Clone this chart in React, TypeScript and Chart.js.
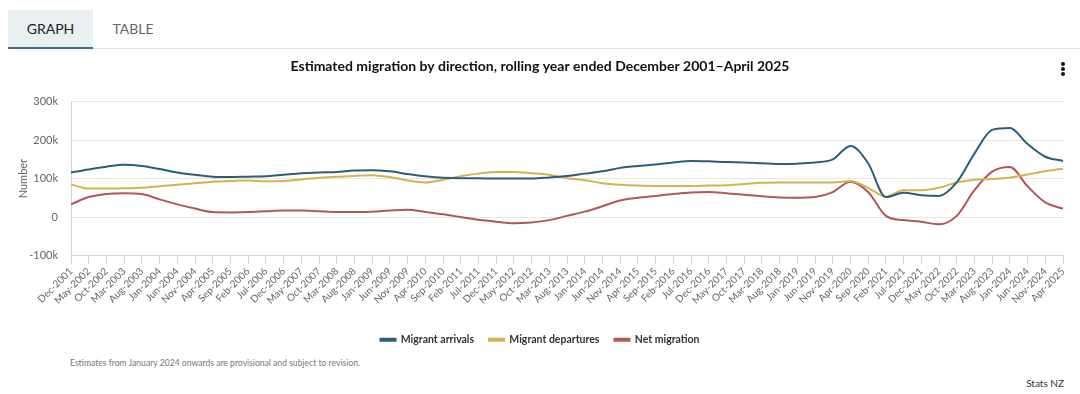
import React, { useEffect, useRef } from "react";
import { Chart, registerables } from "chart.js";

Chart.register(...registerables);

const FONT = "Lato, 'Open Sans', sans-serif";

const months = [
  "Dec-2001", "May-2002", "Oct-2002", "Mar-2003", "Aug-2003", "Jan-2004", "Jun-2004", "Nov-2004",
  "Apr-2005", "Sep-2005", "Feb-2006", "Jul-2006", "Dec-2006", "May-2007", "Oct-2007", "Mar-2008",
  "Aug-2008", "Jan-2009", "Jun-2009", "Nov-2009", "Apr-2010", "Sep-2010", "Feb-2011", "Jul-2011",
  "Dec-2011", "May-2012", "Oct-2012", "Mar-2013", "Aug-2013", "Jan-2014", "Jun-2014", "Nov-2014",
  "Apr-2015", "Sep-2015", "Feb-2016", "Jul-2016", "Dec-2016", "May-2017", "Oct-2017", "Mar-2018",
  "Aug-2018", "Jan-2019", "Jun-2019", "Nov-2019", "Apr-2020", "Sep-2020", "Feb-2021", "Jul-2021",
  "Dec-2021", "May-2022", "Oct-2022", "Mar-2023", "Aug-2023", "Jan-2024", "Jun-2024", "Nov-2024",
  "Apr-2025",
];

// values in thousands
const arrivals = [
  116, 124, 131, 136, 133, 125, 116, 110, 105, 104, 105, 106, 110, 114, 116, 117,
  121, 122, 119, 112, 106, 102, 101, 101, 100, 100, 100, 103, 107, 113, 119, 128,
  133, 137, 142, 146, 145, 143, 142, 140, 138, 139, 142, 150, 185, 140, 52, 63,
  57, 55, 90, 165, 227, 232, 190, 157, 146,
];

const departures = [
  85, 74, 74, 75, 76, 80, 84, 88, 92, 94, 95, 93, 94, 98, 102, 105,
  107, 109, 104, 95, 90, 97, 106, 113, 117, 117, 114, 110, 101, 96, 88, 84,
  82, 81, 81, 81, 82, 83, 86, 89, 90, 90, 90, 90, 94, 76, 53, 70,
  70, 76, 90, 97, 99, 103, 111, 119, 126,
];

const netMigration = [
  33, 52, 60, 62, 60, 46, 33, 22, 13, 12, 13, 15, 17, 17, 15, 13,
  13, 14, 17, 19, 13, 7, 0, -7, -12, -16, -14, -8, 3, 14, 28, 43,
  50, 55, 60, 64, 65, 62, 58, 54, 51, 50, 52, 65, 92, 65, 3, -8,
  -12, -19, 3, 70, 118, 130, 80, 38, 22,
];

const seriesNames = ["Migrant arrivals", "Migrant departures", "Net migration"];
const seriesColors = ["#2b5e7b", "#d6b24f", "#b3565a"];
const yTicks = [-100, 0, 100, 200, 300];

function MigrationChart() {
  const ref = useRef<HTMLCanvasElement | null>(null);
  useEffect(() => {
    if (!ref.current) return;
    const values = [arrivals, departures, netMigration];
    const chart = new Chart(ref.current, {
      type: "line",
      data: {
        labels: months,
        datasets: values.map((d, i) => ({
          label: seriesNames[i],
          data: d,
          borderColor: seriesColors[i],
          backgroundColor: seriesColors[i],
          borderWidth: 2,
          pointRadius: 0,
          cubicInterpolationMode: "monotone" as const,
        })),
      },
      options: {
        animation: false,
        responsive: false,
        maintainAspectRatio: false,
        layout: { padding: { left: 17, right: 17, top: 0, bottom: 0 } },
        plugins: {
          title: {
            display: true,
            text: "Estimated migration by direction, rolling year ended December 2001\u2013April 2025",
            color: "#111",
            font: { family: FONT, size: 14, weight: "bold" },
            padding: { top: 6, bottom: 27 },
          },
          legend: {
            position: "bottom",
            labels: {
              boxWidth: 15,
              boxHeight: 2,
              color: "#333",
              font: { family: FONT, size: 10.5, weight: "bold" },
              padding: 15,
            },
          },
          tooltip: { enabled: false },
        },
        scales: {
          x: {
            afterFit: (scale: any) => {
              scale.height += 11;
            },
            grid: {
              drawOnChartArea: false,
              drawTicks: true,
              tickLength: 8,
              color: "#ccd6eb",
            },
            border: { display: true, color: "#ccd6eb" },
            ticks: {
              autoSkip: false,
              minRotation: 45,
              maxRotation: 45,
              color: "#666",
              padding: 2,
              font: { family: FONT, size: 10 },
            },
          },
          y: {
            min: -100,
            max: 300,
            afterBuildTicks: (scale: any) => {
              scale.ticks = yTicks.map((v) => ({ value: v }));
            },
            afterFit: (scale: any) => {
              scale.width = 54;
            },
            title: {
              display: true,
              text: "Number",
              color: "#666",
              font: { family: FONT, size: 11 },
              padding: { top: 0, bottom: 6 },
            },
            grid: { color: "#e6e6e6", drawTicks: false },
            border: { display: true, color: "#ccd6eb" },
            ticks: {
              color: "#666",
              padding: 13,
              font: { family: FONT, size: 11 },
              callback: (v: any) => (Number(v) === 0 ? "0" : `${v}k`),
            },
          },
        },
      },
    });
    return () => chart.destroy();
  }, []);
  return (
    <canvas
      ref={ref}
      width={1080}
      height={303}
      style={{ position: "absolute", left: 0, top: 52, width: 1080, height: 303 }}
    />
  );
}

export default function App() {
  const dot = (top: number) => (
    <div
      style={{
        position: "absolute",
        left: 1061,
        top,
        width: 4,
        height: 4,
        borderRadius: 2,
        background: "#111",
      }}
    />
  );
  return (
    <div
      style={{
        position: "fixed",
        left: 0,
        top: 0,
        width: 1080,
        height: 394,
        background: "#fff",
        fontFamily: FONT,
        overflow: "hidden",
      }}
    >
      <div
        style={{
          position: "absolute",
          left: 8,
          top: 10,
          width: 85,
          height: 37,
          background: "#e9eef1",
          borderBottom: "2px solid #3e6e8a",
          display: "flex",
          alignItems: "center",
          justifyContent: "center",
          fontSize: 14,
          color: "#222",
        }}
      >
        GRAPH
      </div>
      <div
        style={{
          position: "absolute",
          left: 93,
          top: 10,
          width: 80,
          height: 37,
          display: "flex",
          alignItems: "center",
          justifyContent: "center",
          fontSize: 14,
          color: "#666",
        }}
      >
        TABLE
      </div>
      <div
        style={{
          position: "absolute",
          left: 93,
          top: 48,
          width: 987,
          height: 1,
          background: "#e2e2e2",
        }}
      />
      <MigrationChart />
      {dot(62)}
      {dot(67)}
      {dot(72)}
      <div
        style={{
          position: "absolute",
          left: 70,
          top: 358,
          fontSize: 8.6,
          color: "#777",
        }}
      >
        Estimates from January 2024 onwards are provisional and subject to revision.
      </div>
      <div
        style={{
          position: "absolute",
          right: 16,
          top: 377,
          fontSize: 10,
          color: "#333",
        }}
      >
        Stats NZ
      </div>
    </div>
  );
}
